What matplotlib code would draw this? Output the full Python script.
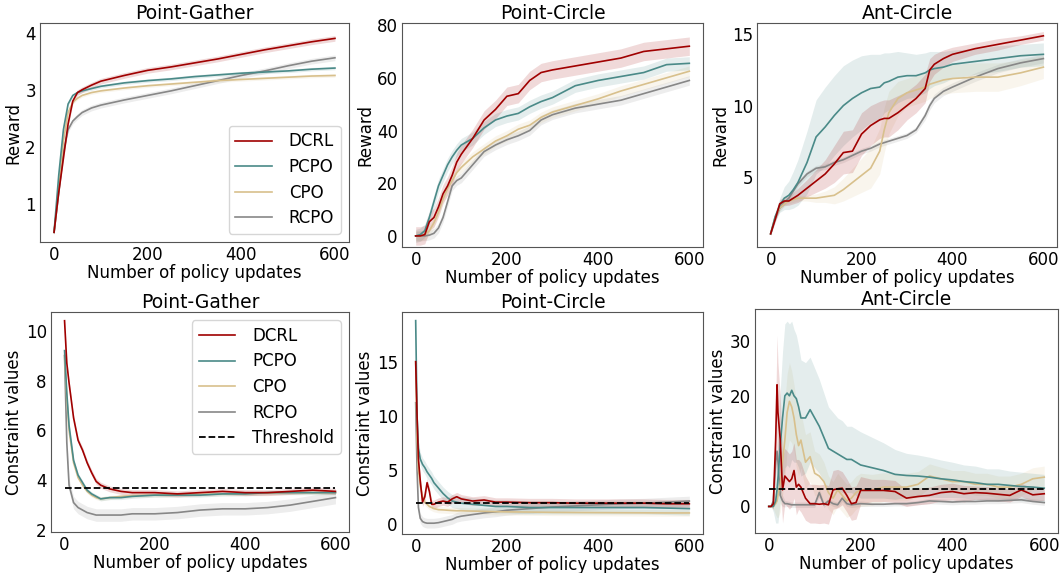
import numpy as np
import matplotlib
matplotlib.use("Agg")
import matplotlib.pyplot as plt

names = ["DCRL", "PCPO", "CPO", "RCPO"]
colors = ["#a00000", "#4a8a88", "#d8c08c", "#878787"]

# --- Point-Gather reward ---
pg_r_x = [0, 10, 20, 30, 40, 50, 60, 80, 100, 150, 200, 250, 300, 350, 400, 450, 500, 550, 600]
pg_r_dcrl = [0.5, 1.2, 1.8, 2.4, 2.8, 2.95, 3.0, 3.08, 3.15, 3.25, 3.34, 3.4, 3.47, 3.54, 3.62, 3.7, 3.77, 3.84, 3.9]
pg_r_pcpo = [0.5, 1.5, 2.3, 2.75, 2.9, 2.95, 2.98, 3.02, 3.06, 3.12, 3.16, 3.19, 3.23, 3.26, 3.29, 3.31, 3.33, 3.36, 3.38]
pg_r_cpo = [0.5, 1.3, 2.1, 2.6, 2.78, 2.85, 2.9, 2.95, 2.98, 3.03, 3.07, 3.1, 3.13, 3.16, 3.18, 3.2, 3.22, 3.24, 3.25]
pg_r_rcpo = [0.5, 1.2, 1.9, 2.3, 2.45, 2.53, 2.6, 2.68, 2.73, 2.82, 2.9, 2.98, 3.07, 3.16, 3.25, 3.33, 3.42, 3.5, 3.56]
pg_r_spread = [0.05, 0.03, 0.03, 0.05]

# --- Point-Circle reward ---
pc_r_x = [0, 10, 20, 30, 40, 50, 60, 70, 80, 90, 100, 125, 150, 175, 200, 225, 250, 275, 300, 350, 400, 450, 500, 550, 600]
pc_r_dcrl = [0, 0, 0.5, 5.4, 7, 11, 16, 19, 23, 28, 31, 37, 44, 48, 53, 54, 59, 62, 63, 64.5, 66, 67.5, 70, 71, 72]
pc_r_pcpo = [0, 0.5, 2, 7, 13, 19, 23, 27, 30, 32.5, 34.5, 37, 41, 44, 45.5, 46.5, 49, 51, 52.5, 57, 59, 60.5, 62, 65, 65.5]
pc_r_cpo = [0, 0, 0.5, 2, 5, 9, 14, 18, 21, 24, 26, 30, 33, 36, 38, 40.5, 42, 45, 47, 49.5, 52, 55, 57.5, 60, 62.5]
pc_r_rcpo = [0, 0, 0, 0.3, 1, 3, 7, 13, 19, 21, 22, 27, 32, 34.5, 36.5, 38, 40, 44, 46, 48.5, 50, 51.5, 54, 56.5, 59]
pc_r_spread = [3.5, 2.5, 2.0, 1.8]

# --- Ant-Circle reward ---
ac_r_x = [0, 10, 20, 30, 40, 50, 60, 80, 100, 120, 140, 160, 180, 200, 220, 240, 250, 260, 280, 300,
          320, 340, 350, 360, 380, 400, 450, 500, 550, 600]
ac_r_dcrl = [1.0, 2.0, 3.1, 3.3, 3.3, 3.5, 3.7, 4.2, 4.7, 5.2, 5.9, 6.7, 6.8, 8.0, 8.6, 9.0, 9.1, 9.1, 9.5, 10.0,
             10.5, 11.2, 12.5, 12.9, 13.3, 13.6, 14.0, 14.3, 14.6, 14.9]
ac_r_pcpo = [1.0, 2.2, 3.0, 3.5, 3.7, 4.1, 4.6, 6.0, 7.8, 8.5, 9.3, 10.0, 10.5, 10.9, 11.2, 11.3, 11.6, 11.7, 12.0, 12.1,
             12.1, 12.3, 12.5, 12.6, 12.7, 12.9, 13.1, 13.3, 13.5, 13.6]
ac_r_cpo = [1.0, 2.2, 2.8, 3.1, 3.3, 3.4, 3.5, 3.5, 3.5, 3.6, 3.7, 4.1, 4.6, 5.1, 5.6, 6.8, 8.3, 9.5, 10.5, 10.9,
            11.1, 11.3, 11.5, 11.6, 11.8, 11.9, 12.0, 12.0, 12.3, 12.7]
ac_r_rcpo = [1.0, 2.1, 2.8, 3.2, 3.5, 4.0, 4.5, 5.2, 5.6, 5.7, 6.0, 6.2, 6.5, 6.8, 7.0, 7.3, 7.4, 7.5, 7.7, 7.9,
             8.3, 9.3, 10.0, 10.5, 11.0, 11.3, 12.0, 12.6, 13.0, 13.3]
ac_r_spread = [
    [0.1, 0.2, 0.3, 0.3, 0.3, 0.4, 0.5, 0.6, 0.8, 1.0, 1.3, 1.5, 1.5, 1.5, 1.4, 1.3, 1.3, 1.3, 1.2, 1.0,
     1.0, 1.0, 0.8, 0.7, 0.6, 0.5, 0.4, 0.4, 0.3, 0.3],
    [0.1, 0.3, 0.5, 0.8, 1.0, 1.3, 1.6, 2.2, 2.6, 2.8, 2.8, 2.8, 2.7, 2.6, 2.4, 2.3, 2.1, 2.0, 1.8, 1.6,
     1.5, 1.4, 1.3, 1.2, 1.1, 1.0, 0.9, 0.9, 0.8, 0.8],
    [0.1, 0.2, 0.2, 0.2, 0.2, 0.2, 0.2, 0.2, 0.3, 0.4, 0.6, 0.8, 1.0, 1.2, 1.4, 1.6, 1.6, 1.5, 1.2, 1.0,
     1.0, 1.0, 1.0, 1.0, 1.0, 1.0, 1.0, 1.0, 0.9, 0.8],
    [0.1, 0.2, 0.2, 0.2, 0.2, 0.2, 0.2, 0.2, 0.2, 0.2, 0.2, 0.2, 0.2, 0.2, 0.2, 0.2, 0.2, 0.2, 0.2, 0.2,
     0.2, 0.3, 0.3, 0.3, 0.3, 0.3, 0.3, 0.3, 0.3, 0.3],
]

# --- Point-Gather constraint ---
pg_c_x = [0, 5, 10, 20, 30, 40, 50, 60, 70, 80, 100, 125, 150, 200, 250, 300, 350, 400, 450, 500, 550, 600]
pg_c_dcrl = [10.4, 8.7, 7.9, 6.5, 5.6, 5.2, 4.7, 4.3, 3.95, 3.8, 3.65, 3.55, 3.5, 3.5, 3.45, 3.5, 3.55, 3.5, 3.5, 3.55, 3.6, 3.55]
pg_c_pcpo = [9.2, 7.5, 6.2, 4.8, 4.2, 3.9, 3.6, 3.45, 3.35, 3.25, 3.3, 3.3, 3.35, 3.4, 3.4, 3.4, 3.45, 3.45, 3.5, 3.5, 3.5, 3.5]
pg_c_cpo = [9.0, 7.3, 6.0, 4.7, 4.1, 3.8, 3.55, 3.4, 3.3, 3.25, 3.3, 3.35, 3.38, 3.4, 3.42, 3.43, 3.45, 3.46, 3.48, 3.5, 3.5, 3.5]
pg_c_rcpo = [9.0, 5.5, 3.8, 3.1, 2.9, 2.8, 2.7, 2.65, 2.6, 2.6, 2.6, 2.6, 2.65, 2.65, 2.7, 2.8, 2.85, 2.85, 2.9, 3.0, 3.15, 3.3]
pg_c_spread = [0.12, 0.08, 0.08, 0.25]
pg_threshold = 3.68

# --- Point-Circle constraint ---
pc_c_x = [0, 3, 6, 10, 15, 20, 25, 30, 35, 40, 50, 60, 70, 80, 90, 100, 125, 150, 175, 200, 250, 300, 350, 400, 450, 500, 550, 600]
pc_c_dcrl = [15, 10, 6, 4.0, 2.0, 2.5, 3.8, 3.0, 1.8, 1.8, 2.0, 2.1, 2.0, 2.3, 2.5, 2.3, 2.1, 2.2, 2.0, 2.0, 1.95, 1.95, 1.9, 1.9, 1.9, 1.9, 1.85, 1.85]
pc_c_pcpo = [18.8, 10, 7, 6.0, 5.5, 5.2, 4.8, 4.5, 4.2, 3.8, 3.3, 2.8, 2.4, 2.1, 2.0, 1.9, 1.8, 1.7, 1.6, 1.6, 1.5, 1.5, 1.5, 1.5, 1.5, 1.5, 1.45, 1.4]
pc_c_cpo = [15, 8, 5, 3.5, 2.5, 2.0, 1.8, 1.6, 1.5, 1.4, 1.3, 1.28, 1.25, 1.22, 1.2, 1.2, 1.17, 1.15, 1.12, 1.1, 1.08, 1.05, 1.04, 1.03, 1.02, 1.01, 1.0, 1.0]
pc_c_rcpo = [11.2, 5, 1.5, 0.5, 0.2, 0.1, 0.05, 0.05, 0.05, 0.05, 0.1, 0.2, 0.3, 0.4, 0.6, 0.7, 0.85, 1.0, 1.1, 1.25, 1.4, 1.55, 1.65, 1.75, 1.85, 1.9, 2.0, 2.1]
pc_c_spread = [0.4, 0.6, 0.3, 0.45]
pc_threshold = 1.9

# --- Ant-Circle constraint ---
ac_c_x = [0, 5, 10, 15, 18, 20, 25, 30, 35, 40, 45, 50, 55, 60, 65, 70, 80, 90, 100, 110, 120, 130, 140, 150, 160,
          170, 180, 190, 200, 225, 250, 275, 300, 325, 350, 375, 400, 425, 450, 475, 500, 525, 550, 575, 600]
ac_c_dcrl = [0, 0, 0.5, 12, 22, 17, 12, 3, 5.5, 5, 4.5, 5, 6.5, 3.5, 4.0, 3.5, 1.5, 0.5, 0.5, 0.4, 0.5, 0.3, 3.0, 3.2, 3.3,
             2.0, 0.5, 0.7, 2.9, 2.9, 2.9, 2.7, 1.5, 1.8, 2.0, 2.5, 2.7, 2.3, 2.5, 2.4, 2.2, 2.0, 3.0, 2.1, 2.3]
ac_c_pcpo = [0, 0, 0, 1, 3, 5, 11, 16, 20, 20.5, 20, 21, 20, 19.5, 18, 16, 16, 17.5, 16, 14.5, 12.5, 10.5, 10, 9.5, 9.0,
             8.5, 8.5, 8.0, 7.5, 7.0, 6.5, 5.8, 5.6, 5.5, 5.3, 5.0, 4.8, 4.5, 4.3, 4.0, 4.0, 3.8, 3.6, 3.5, 3.3]
ac_c_cpo = [0, 0, 0, 0.5, 1, 2, 4, 8, 12, 17, 19, 18, 16, 13, 11, 12, 8, 9, 6, 5.5, 4.5, 2.5, 1.5, 3.0, 2.0,
            1.0, 1.5, 2.5, 3.0, 3.0, 3.5, 3.5, 3.5, 4.0, 5.5, 5.0, 4.5, 4.5, 4.0, 4.0, 3.5, 3.5, 4.0, 5.0, 5.3]
ac_c_rcpo = [0, 0, 1, 8, 10, 8, 2, 1, 0.5, 0.5, 0.4, 0.3, 0.3, 0.3, 0.3, 0.3, 0.3, 0.3, 0.3, 2.5, 0.3, 1.0, 0.5, 0.3, 1.5,
             0.5, 0.3, 0.4, 0.5, 0.4, 0.4, 0.5, 0.5, 0.7, 1.0, 0.9, 0.8, 0.9, 0.9, 1.0, 1.0, 1.1, 1.2, 0.9, 0.7]
ac_c_spread = [
    [0, 0, 1, 6, 9, 9, 8, 6, 5, 5, 5, 5, 5, 5, 4.5, 4.5, 4, 3.5, 3.5, 3.5, 3.5, 3.5, 3.5, 3.5, 3,
     3, 3, 3, 2.5, 2, 2, 2, 1.5, 1.5, 1.5, 1.5, 1.5, 1.5, 1.2, 1.2, 1.2, 1.2, 1.2, 1.2, 1.2],
    [0, 0, 1, 4, 6, 8, 10, 12, 13, 13, 13, 12.5, 12, 11.5, 11, 10.5, 10, 9.5, 9, 8.5, 8, 7.5, 7, 6.5, 6.5,
     6, 6, 6, 6, 5.5, 5, 4.5, 4, 3.8, 3.6, 3.4, 3.2, 3, 3, 2.8, 2.8, 2.6, 2.6, 2.5, 2.5],
    [0, 0, 0.5, 2, 3, 4, 5, 6, 7, 7, 7, 6.5, 6, 6, 5.5, 5, 5, 4.5, 4, 4, 3.5, 3, 3, 3, 3,
     3, 3, 3, 3, 2.8, 2.6, 2.5, 2.5, 2.3, 2.2, 2.1, 2, 2, 2, 2, 2, 2, 2, 2, 2],
    [0, 0, 0.5, 2, 2, 2, 1.5, 1, 0.6, 0.5, 0.5, 0.5, 0.5, 0.5, 0.5, 0.5, 0.5, 0.5, 0.5, 0.8, 0.5, 0.5, 0.5, 0.5, 0.6,
     0.5, 0.5, 0.5, 0.5, 0.4, 0.4, 0.4, 0.4, 0.4, 0.5, 0.5, 0.5, 0.5, 0.5, 0.5, 0.5, 0.5, 0.5, 0.5, 0.5],
]
ac_threshold = 3.2


plt.rcParams["font.family"] = "DejaVu Sans"
plt.rcParams["font.size"] = 12

fig = plt.figure(figsize=(10.6, 5.73), dpi=100)
W, H = 1060, 573


def add_ax(l, t, r, b):
    return fig.add_axes([l / W, 1 - b / H, (r - l) / W, (b - t) / H])


def panel(ax, x, series, spreads, title, ylabel, ylim, yticks, order=(3, 2, 1, 0), threshold=None):
    x = np.asarray(x)
    for i in order:
        y = np.asarray(series[i], dtype=float)
        s = np.broadcast_to(np.asarray(spreads[i], dtype=float), y.shape)
        ax.fill_between(x, y - s, y + s, color=colors[i], alpha=0.15, lw=0)
    handles = {}
    for i in order:
        handles[i], = ax.plot(x, series[i], color=colors[i], lw=1.2, label=names[i])
    hs = [handles[i] for i in range(4)]
    if threshold is not None:
        th, = ax.plot([0, 600], [threshold, threshold], "k--", lw=1.3, label="Threshold")
        hs.append(th)
    ax.set_xlim(-30, 630)
    ax.set_ylim(*ylim)
    ax.set_yticks(yticks)
    ax.set_xticks([0, 200, 400, 600])
    ax.set_title(title, fontsize=13.5, pad=2)
    ax.set_ylabel(ylabel, fontsize=12, labelpad=2)
    ax.set_xlabel("Number of policy updates", fontsize=12, labelpad=0)
    ax.tick_params(labelsize=12, length=0, pad=3)
    for sp in ax.spines.values():
        sp.set_color("#555555")
    return hs


ax1 = add_ax(40, 23, 349, 242)
hs = panel(ax1, pg_r_x, [pg_r_dcrl, pg_r_pcpo, pg_r_cpo, pg_r_rcpo], pg_r_spread,
           "Point-Gather", "Reward", (0.33, 4.17), [1, 2, 3, 4])
ax1.legend(handles=hs, loc="lower right", fontsize=12, handlelength=2.2, borderpad=0.4,
           labelspacing=0.45, handletextpad=1.0)

ax2 = add_ax(402, 23, 703, 247)
panel(ax2, pc_r_x, [pc_r_dcrl, pc_r_pcpo, pc_r_cpo, pc_r_rcpo], pc_r_spread,
      "Point-Circle", "Reward", (-4.2, 80.8), [0, 20, 40, 60, 80])

ax3 = add_ax(757, 23, 1057, 247)
panel(ax3, ac_r_x, [ac_r_dcrl, ac_r_pcpo, ac_r_cpo, ac_r_rcpo], ac_r_spread,
      "Ant-Circle", "Reward", (0.07, 15.8), [5, 10, 15])

ax4 = add_ax(51, 312, 349, 532)
hs = panel(ax4, pg_c_x, [pg_c_dcrl, pg_c_pcpo, pg_c_cpo, pg_c_rcpo], pg_c_spread,
           "Point-Gather", "Constraint values", (1.92, 10.75), [2, 4, 6, 8, 10], threshold=pg_threshold)
ax4.legend(handles=hs, loc="upper right", fontsize=12, handlelength=2.2, borderpad=0.4,
           labelspacing=0.45, handletextpad=1.0)

ax5 = add_ax(402, 312, 703, 534)
panel(ax5, pc_c_x, [pc_c_dcrl, pc_c_pcpo, pc_c_cpo, pc_c_rcpo], pc_c_spread,
      "Point-Circle", "Constraint values", (-0.95, 19.6), [0, 5, 10, 15], threshold=pc_threshold)

ax6 = add_ax(755, 309, 1058, 533)
panel(ax6, ac_c_x, [ac_c_dcrl, ac_c_pcpo, ac_c_cpo, ac_c_rcpo], ac_c_spread,
      "Ant-Circle", "Constraint values", (-4.8, 35.7), [0, 10, 20, 30], threshold=ac_threshold)

fig.savefig("out.png", dpi=100)
